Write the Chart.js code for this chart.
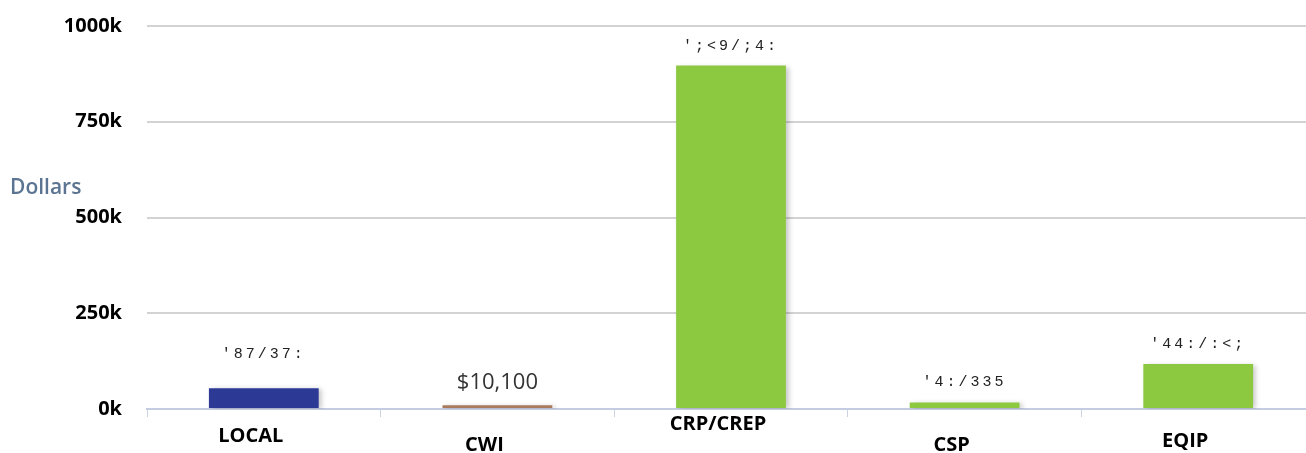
<!DOCTYPE html>
<html>
<head>
<meta charset="utf-8">
<script src="https://cdn.jsdelivr.net/npm/chart.js@4.4.1/dist/chart.umd.min.js"></script>
<style>
  html, body { margin: 0; padding: 0; background: #fff; overflow: hidden; }
  #wrap { position: relative; width: 1316px; height: 453px; }
</style>
</head>
<body>
<div id="wrap"><canvas id="programChart"></canvas></div>
<script>
// programs and dollar amounts
const programs = ["LOCAL", "CWI", "CRP/CREP", "CSP", "EQIP"];
const dollars = [54047, 10100, 896817, 17002, 117798];
// labels as printed above the bars (most of them came out in a shifted encoding)
const valueLabels = ["'87/37:", "$10,100", "';<9/;4:", "'4:/335", "'44:/:<;"];
const yTicks = [0, 250000, 500000, 750000, 1000000];

// styling
const barColors = ['#2d3a95', '#a97a5c', '#8dc841', '#8dc841', '#8dc841'];
const labelLift = [34, 22, 19, 20, 20];
const labelMono = [true, false, true, true, true];
const xLabelLine = [13, 19, 5, 19, 16]; // line height per name, staggers them like the original

const FONT = '"Open Sans", "Noto Sans", sans-serif';

// soft drop shadow under the bars
const barShadow = {
    id: 'barShadow',
    beforeDatasetsDraw(chart) {
        const ctx = chart.ctx;
        ctx.save();
        ctx.shadowColor = 'rgba(0,0,0,0.22)';
        ctx.shadowBlur = 5;
        ctx.shadowOffsetX = 3;
        ctx.shadowOffsetY = 1;
    },
    afterDatasetsDraw(chart) { chart.ctx.restore(); }
};

// value label above every bar
const barValueLabels = {
    id: 'barValueLabels',
    afterDatasetsDraw(chart) {
        const ctx = chart.ctx;
        chart.getDatasetMeta(0).data.forEach((bar, i) => {
            ctx.save();
            ctx.textAlign = 'center';
            ctx.textBaseline = 'middle';
            if (labelMono[i]) {
                ctx.font = '15px "Liberation Mono", monospace';
                ctx.letterSpacing = '3px';
                ctx.fillStyle = '#222';
            } else {
                ctx.font = '22px ' + FONT;
                ctx.fillStyle = '#333';
            }
            ctx.fillText(valueLabels[i], bar.x, bar.y - labelLift[i]);
            ctx.restore();
        });
    }
};

// horizontal "Dollars" title left of the y ticks
const yTitle = {
    id: 'yTitle',
    afterDraw(chart) {
        const ctx = chart.ctx;
        ctx.save();
        ctx.font = '600 21px ' + FONT;
        ctx.fillStyle = '#5b7491';
        ctx.textAlign = 'left';
        ctx.textBaseline = 'middle';
        ctx.fillText('Dollars', 10, 188);
        ctx.restore();
    }
};

new Chart(document.getElementById('programChart'), {
    type: 'bar',
    data: {
        labels: programs,
        datasets: [{
            data: dollars,
            backgroundColor: barColors,
            borderWidth: 0,
            barPercentage: 0.47,
            categoryPercentage: 1
        }]
    },
    options: {
        responsive: true,
        maintainAspectRatio: false,
        animation: false,
        layout: { padding: { top: 26, right: 1, left: 0, bottom: 0 } },
        plugins: { legend: { display: false }, tooltip: { enabled: false }, title: { display: false } },
        scales: {
            x: {
                offset: true,
                grid: { display: true, offset: true, drawOnChartArea: false, drawTicks: true, tickLength: 8, color: '#ccd4e4', lineWidth: 1 },
                border: { display: true, color: '#c3cce0', width: 2 },
                ticks: {
                    color: '#000', padding: 0, labelOffset: -13, maxRotation: 0, autoSkip: false,
                    font: c => ({ family: FONT, size: 20, weight: 'bold', lineHeight: xLabelLine[c.index] + 'px' }),
                    callback: (v, i) => ['', programs[i]]
                },
                afterFit: s => { s.height = 44; }
            },
            y: {
                min: 0,
                max: 1000000,
                afterBuildTicks: s => { s.ticks = yTicks.map(v => ({ value: v })); },
                grid: { color: '#d3d3d3', lineWidth: 2, drawTicks: false },
                border: { display: false },
                ticks: {
                    color: '#000', padding: 25,
                    font: { family: FONT, size: 20, weight: 'bold' },
                    callback: v => (v / 1000) + 'k'
                },
                afterFit: s => { s.width = 147; s.paddingTop = 0; s.paddingBottom = 0; }
            }
        }
    },
    plugins: [barShadow, barValueLabels, yTitle]
});
</script>
</body>
</html>
